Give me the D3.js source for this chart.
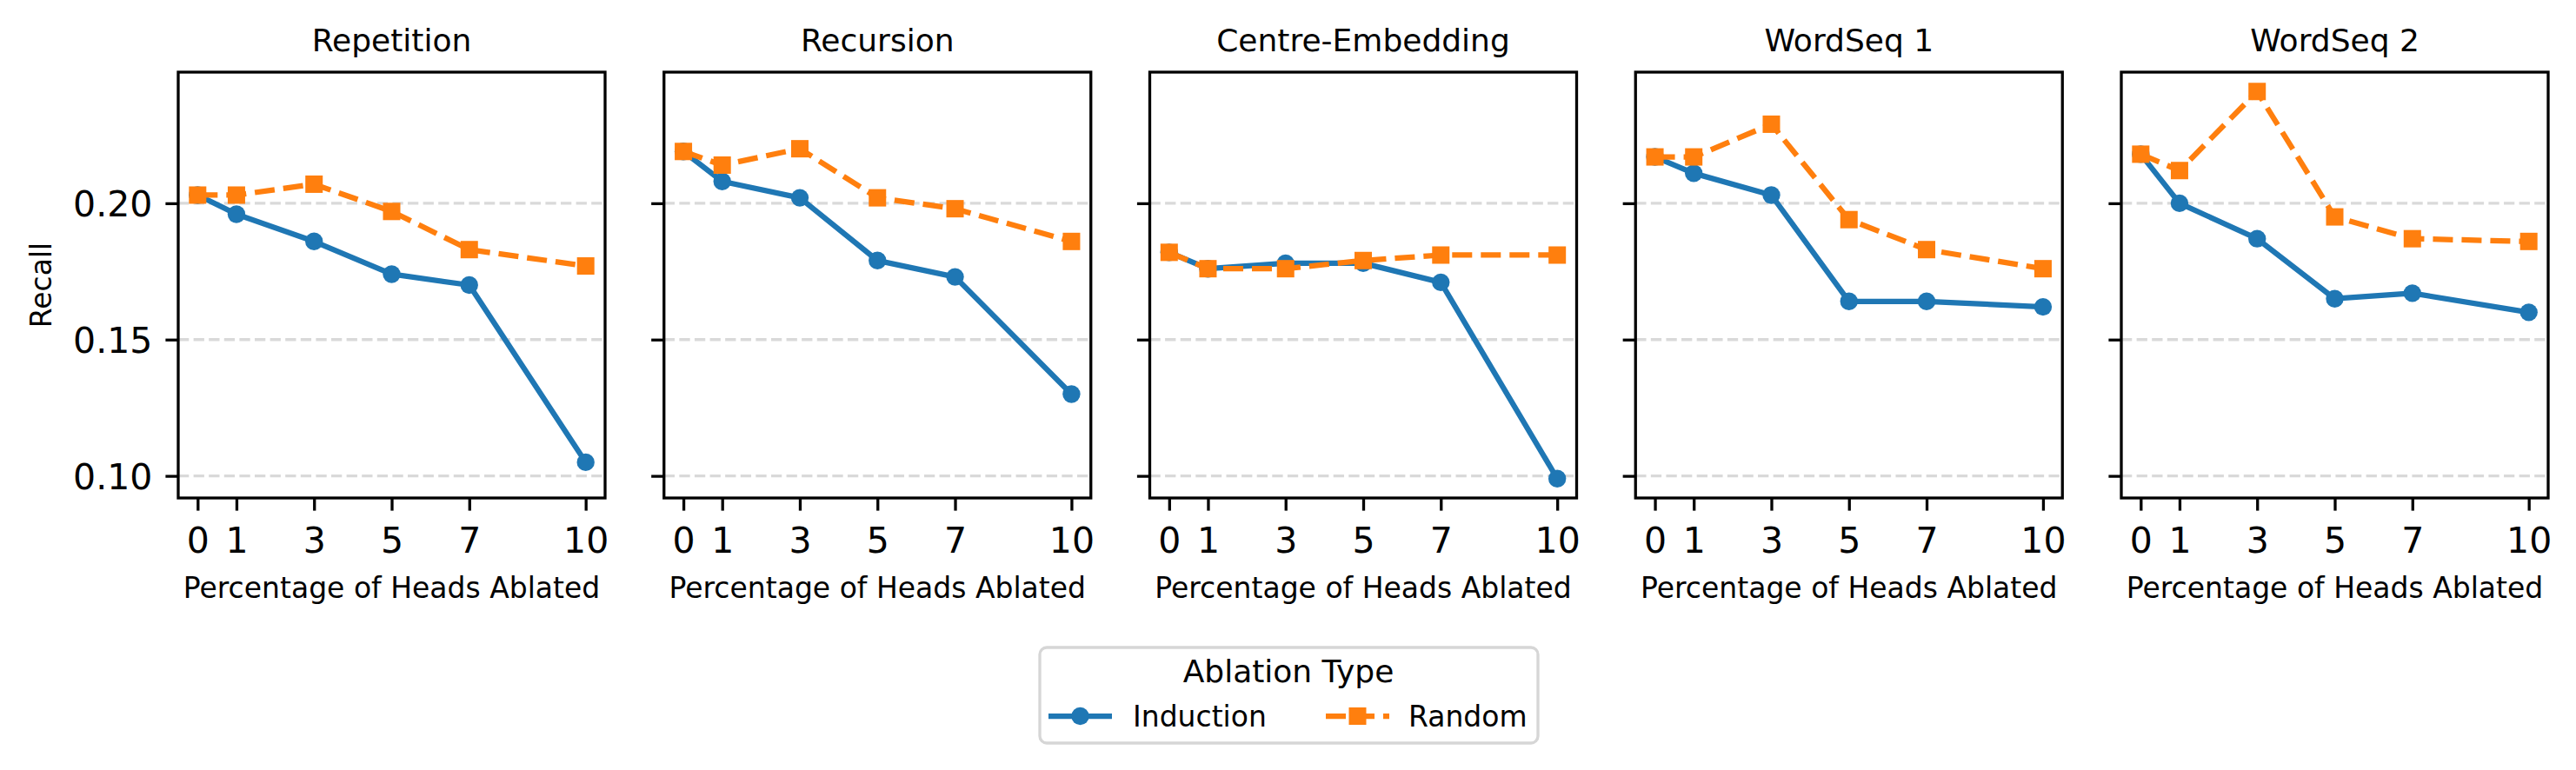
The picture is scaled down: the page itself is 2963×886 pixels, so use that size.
<!DOCTYPE html>
<html>
<head>
<meta charset="utf-8">
<script src="https://cdn.jsdelivr.net/npm/d3@7"></script>
<style>
  html, body { margin: 0; padding: 0; background: #ffffff; }
  svg { display: block; font-family: "DejaVu Sans", sans-serif; }
</style>
</head>
<body>
<svg id="chart" width="2963" height="886"></svg>
<script>
// ---- data ----
const panels = ["Repetition", "Recursion", "Centre-Embedding", "WordSeq 1", "WordSeq 2"];
const xValues = [0, 1, 3, 5, 7, 10];
const xTickLabels = ["0", "1", "3", "5", "7", "10"];
const yTicks = [0.10, 0.15, 0.20];
const seriesNames = ["Induction", "Random"];

const inductionRepetition = [0.203, 0.196, 0.186, 0.174, 0.170, 0.105];
const randomRepetition    = [0.203, 0.203, 0.207, 0.197, 0.183, 0.177];
const inductionRecursion  = [0.219, 0.208, 0.202, 0.179, 0.173, 0.130];
const randomRecursion     = [0.219, 0.214, 0.220, 0.202, 0.198, 0.186];
const inductionCentre     = [0.182, 0.176, 0.178, 0.178, 0.171, 0.099];
const randomCentre        = [0.182, 0.176, 0.176, 0.179, 0.181, 0.181];
const inductionWordSeq1   = [0.217, 0.211, 0.203, 0.164, 0.164, 0.162];
const randomWordSeq1      = [0.217, 0.217, 0.229, 0.194, 0.183, 0.176];
const inductionWordSeq2   = [0.218, 0.200, 0.187, 0.165, 0.167, 0.160];
const randomWordSeq2      = [0.218, 0.212, 0.241, 0.195, 0.187, 0.186];

const inductionByPanel = [inductionRepetition, inductionRecursion, inductionCentre, inductionWordSeq1, inductionWordSeq2];
const randomByPanel = [randomRepetition, randomRecursion, randomCentre, randomWordSeq1, randomWordSeq2];

// ---- layout ----
const W = 2963, H = 886;
const axLeft0 = 205, axStep = 558.75, axW = 491;
const axTop = 83, axBottom = 573;
const BLUE = "#1f77b4", ORANGE = "#ff7f0e";
const tickFont = 41, labelFont = 33, titleFont = 36;
const tickLen = 14.6, spineW = 3.3;

const svg = d3.select("#chart");
svg.append("rect").attr("width", W).attr("height", H).attr("fill", "#fff");

// shared scales
const allVals = inductionByPanel.flat().concat(randomByPanel.flat());
const yMin = d3.min(allVals), yMax = d3.max(allVals);
const yPad = (yMax - yMin) * 0.05;
const y = d3.scaleLinear().domain([yMin - yPad, yMax + yPad]).range([axBottom, axTop]);
const xPad = (d3.max(xValues) - d3.min(xValues)) * 0.05;

panels.forEach((name, i) => {
  const left = axLeft0 + i * axStep;
  const x = d3.scaleLinear().domain([d3.min(xValues) - xPad, d3.max(xValues) + xPad]).range([left, left + axW]);
  const g = svg.append("g");

  // grid
  g.selectAll("line.grid").data(yTicks).enter().append("line")
    .attr("x1", left).attr("x2", left + axW)
    .attr("y1", d => y(d)).attr("y2", d => y(d))
    .attr("stroke", "#d9d9d9").attr("stroke-width", 3.3)
    .attr("stroke-dasharray", "12.3,5.3");

  // lines & markers
  const line = d3.line().x((d, k) => x(xValues[k])).y(d => y(d));
  const ind = inductionByPanel[i], rnd = randomByPanel[i];

  g.append("path").datum(ind).attr("d", line)
    .attr("fill", "none").attr("stroke", BLUE).attr("stroke-width", 6.25)
    .attr("stroke-linejoin", "round").attr("stroke-linecap", "butt");
  g.selectAll("circle.ind").data(ind).enter().append("circle")
    .attr("cx", (d, k) => x(xValues[k])).attr("cy", d => y(d))
    .attr("r", 10.2).attr("fill", BLUE);

  g.append("path").datum(rnd).attr("d", line)
    .attr("fill", "none").attr("stroke", ORANGE).attr("stroke-width", 6.25)
    .attr("stroke-dasharray", "23,10").attr("stroke-linejoin", "round");
  const sq = 20;
  g.selectAll("rect.rnd").data(rnd).enter().append("rect")
    .attr("x", (d, k) => x(xValues[k]) - sq / 2).attr("y", d => y(d) - sq / 2)
    .attr("width", sq).attr("height", sq).attr("fill", ORANGE);

  // frame
  g.append("rect").attr("x", left).attr("y", axTop).attr("width", axW).attr("height", axBottom - axTop)
    .attr("fill", "none").attr("stroke", "#000").attr("stroke-width", spineW);

  // x axis
  const xAxis = d3.axisBottom(x).tickValues(xValues)
    .tickFormat((d, k) => xTickLabels[k]).tickSize(tickLen).tickPadding(19);
  const gx = svg.append("g").attr("transform", `translate(0,${axBottom})`).call(xAxis);
  gx.select(".domain").remove();
  gx.selectAll(".tick line").attr("stroke", "#000").attr("stroke-width", spineW);
  gx.selectAll(".tick text").attr("font-size", tickFont).attr("fill", "#000")
    .attr("font-family", "DejaVu Sans");

  // y axis
  const yAxis = d3.axisLeft(y).tickValues(yTicks)
    .tickFormat(i === 0 ? d3.format(".2f") : () => "").tickSize(tickLen).tickPadding(15);
  const gy = svg.append("g").attr("transform", `translate(${left},0)`).call(yAxis);
  gy.select(".domain").remove();
  gy.selectAll(".tick line").attr("stroke", "#000").attr("stroke-width", spineW);
  gy.selectAll(".tick text").attr("font-size", tickFont).attr("fill", "#000")
    .attr("font-family", "DejaVu Sans").attr("dy", "0.36em");

  // title
  svg.append("text").attr("x", left + axW / 2).attr("y", 59)
    .attr("text-anchor", "middle").attr("font-size", titleFont).attr("fill", "#000")
    .text(name);

  // x label
  svg.append("text").attr("x", left + axW / 2).attr("y", 688)
    .attr("text-anchor", "middle").attr("font-size", labelFont).attr("fill", "#000")
    .text("Percentage of Heads Ablated");
});

// y label
svg.append("text").attr("transform", `translate(59,${(axTop + axBottom) / 2}) rotate(-90)`)
  .attr("text-anchor", "middle").attr("font-size", labelFont).attr("fill", "#000")
  .text("Recall");

// legend
const lg = svg.append("g");
lg.append("rect").attr("x", 1196).attr("y", 745).attr("width", 573).attr("height", 110)
  .attr("rx", 8).attr("fill", "#fff").attr("stroke", "#d6d6d6").attr("stroke-width", 3.3);
lg.append("text").attr("x", 1482).attr("y", 785).attr("text-anchor", "middle")
  .attr("font-size", titleFont).attr("fill", "#000").text("Ablation Type");

const legendItems = [
  { name: seriesNames[0], color: BLUE, x0: 1206, dash: null, marker: "circle", tx: 1303 },
  { name: seriesNames[1], color: ORANGE, x0: 1525, dash: "23,10", marker: "square", tx: 1620 }
];
const handleLen = 73, ly = 824;
legendItems.forEach(it => {
  const l = lg.append("line").attr("x1", it.x0).attr("x2", it.x0 + handleLen)
    .attr("y1", ly).attr("y2", ly).attr("stroke", it.color).attr("stroke-width", 6.25);
  if (it.dash) l.attr("stroke-dasharray", it.dash);
  const cx = it.x0 + handleLen / 2;
  if (it.marker === "circle") {
    lg.append("circle").attr("cx", cx).attr("cy", ly).attr("r", 10.2).attr("fill", it.color);
  } else {
    lg.append("rect").attr("x", cx - 10).attr("y", ly - 10).attr("width", 20).attr("height", 20).attr("fill", it.color);
  }
  lg.append("text").attr("x", it.tx).attr("y", 836).attr("font-size", labelFont).attr("fill", "#000").text(it.name);
});
</script>
</body>
</html>
